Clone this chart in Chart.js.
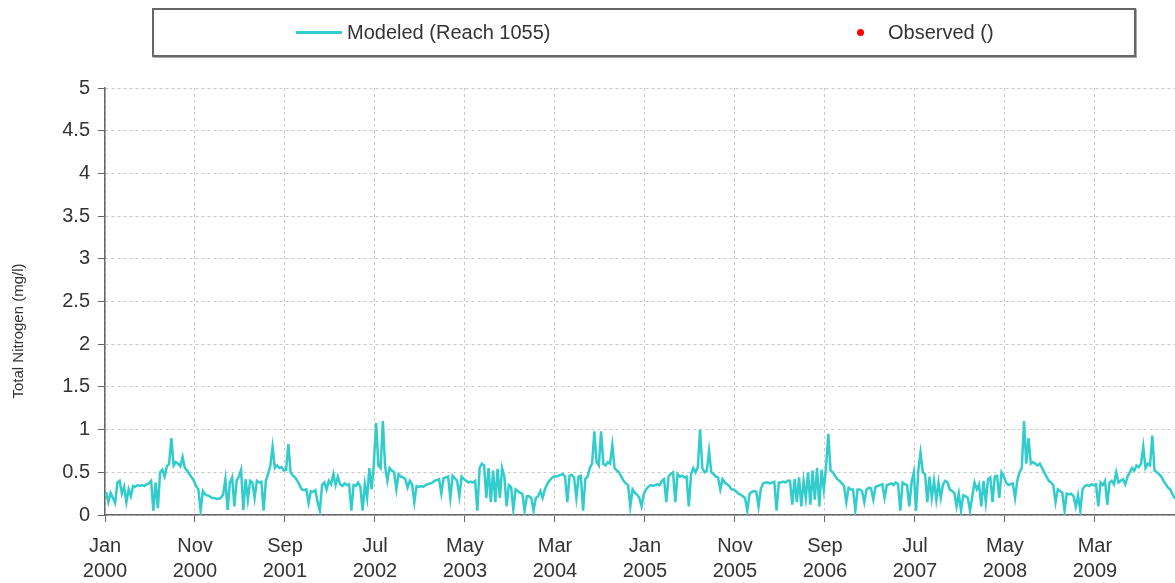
<!DOCTYPE html>
<html>
<head>
<meta charset="utf-8">
<title>Total Nitrogen - Reach 1055</title>
<script src="https://cdn.jsdelivr.net/npm/chart.js@4.4.0/dist/chart.umd.min.js"></script>
<style>
    html, body { margin: 0; padding: 0; background: #fff; }
    #wrap { position: relative; width: 1175px; height: 583px; overflow: hidden; }
    #legend {
        position: absolute; left: 152px; top: 8px; width: 980px; height: 45px;
        border: 2px solid #666; box-shadow: 1px 1px 0 #aaa;
        font: 20px "Liberation Sans", Arial, sans-serif; color: #333;
    }
    #legend .item { position: absolute; top: 0; line-height: 45px; white-space: nowrap; }
    #legend .line { display: inline-block; width: 46px; height: 3px; vertical-align: middle; margin-right: 5px; position: relative; top: -1px; }
    #legend .dot { display: inline-block; width: 7px; height: 7px; border-radius: 50%; vertical-align: middle; margin-right: 24px; position: relative; top: -1px; }
</style>
</head>
<body>
<div id="wrap">
    <canvas id="tnChart" width="1175" height="583"></canvas>
    <div id="legend"></div>
</div>
<script>
// --- Data (4 readings per month) ---

const yAxisTitle = 'Total Nitrogen (mg/l)';
const monthNames = ['Jan', 'Feb', 'Mar', 'Apr', 'May', 'Jun', 'Jul', 'Aug', 'Sep', 'Oct', 'Nov', 'Dec'];
const startYear = 2000;
const yTicks = [0, 0.5, 1, 1.5, 2, 2.5, 3, 3.5, 4, 4.5, 5];
const xTickMonths = [0, 10, 20, 30, 40, 50, 60, 70, 80, 90, 100, 110];

const tn2000 = [
    0.27, 0.15, 0.26, 0.20,  0.14, 0.38, 0.40, 0.25,  0.33, 0.15, 0.30, 0.22,
    0.34, 0.33, 0.35, 0.34,  0.35, 0.34, 0.36, 0.37,  0.40, 0.05, 0.38, 0.08,
    0.50, 0.53, 0.45, 0.57,  0.60, 0.90, 0.58, 0.62,  0.60, 0.57, 0.68, 0.55,
    0.52, 0.48, 0.44, 0.40,  0.34, 0.30, 0.05, 0.28,  0.24, 0.23, 0.22, 0.20
];
const tn2001 = [
    0.20, 0.19, 0.19, 0.20,  0.24, 0.42, 0.06, 0.38,  0.44, 0.10, 0.40, 0.45,
    0.53, 0.06, 0.42, 0.18,  0.40, 0.38, 0.20, 0.40,  0.38, 0.39, 0.05, 0.40,
    0.48, 0.58, 0.80, 0.55,  0.58, 0.55, 0.56, 0.52,  0.53, 0.83, 0.50, 0.46,
    0.44, 0.40, 0.35, 0.30,  0.29, 0.30, 0.14, 0.28,  0.27, 0.29, 0.15, 0.05
];
const tn2002 = [
    0.35, 0.38, 0.30, 0.40,  0.36, 0.48, 0.35, 0.45,  0.36, 0.34, 0.37, 0.35,
    0.36, 0.05, 0.35, 0.34,  0.38, 0.33, 0.05, 0.36,  0.20, 0.55, 0.30, 0.60,
    1.08, 0.58, 0.55, 1.10,  0.57, 0.40, 0.55, 0.52,  0.50, 0.30, 0.48, 0.45,
    0.44, 0.42, 0.32, 0.40,  0.36, 0.15, 0.34, 0.33,  0.34, 0.33, 0.35, 0.36
];
const tn2003 = [
    0.37, 0.38, 0.40, 0.41,  0.42, 0.25, 0.43, 0.44,  0.45, 0.20, 0.46, 0.43,
    0.40, 0.22, 0.45, 0.42,  0.40, 0.38, 0.39, 0.38,  0.40, 0.05, 0.55, 0.60,
    0.58, 0.20, 0.55, 0.15,  0.52, 0.15, 0.54, 0.20,  0.55, 0.45, 0.10, 0.35,
    0.33, 0.06, 0.30, 0.28,  0.26, 0.25, 0.05, 0.22,  0.22, 0.20, 0.05, 0.20
];
const tn2004 = [
    0.22, 0.28, 0.20, 0.30,  0.36, 0.40, 0.43, 0.45,  0.45, 0.46, 0.47, 0.48,
    0.45, 0.15, 0.46, 0.47,  0.44, 0.20, 0.45, 0.46,  0.05, 0.42, 0.45, 0.55,
    0.60, 0.98, 0.62, 0.58,  0.98, 0.60, 0.58, 0.62,  0.60, 0.82, 0.55, 0.52,
    0.50, 0.45, 0.40, 0.37,  0.35, 0.10, 0.30, 0.26,  0.24, 0.20, 0.10, 0.25
];
const tn2005 = [
    0.30, 0.33, 0.35, 0.34,  0.35, 0.36, 0.35, 0.40,  0.42, 0.15, 0.45, 0.48,
    0.50, 0.15, 0.48, 0.45,  0.46, 0.44, 0.45, 0.10,  0.48, 0.55, 0.50, 0.56,
    1.00, 0.55, 0.50, 0.52,  0.75, 0.50, 0.48, 0.45,  0.44, 0.30, 0.42, 0.38,
    0.36, 0.34, 0.30, 0.30,  0.28, 0.25, 0.24, 0.22,  0.20, 0.05, 0.25, 0.27
];
const tn2006 = [
    0.28, 0.27, 0.10, 0.30,  0.37, 0.38, 0.38, 0.37,  0.38, 0.39, 0.05, 0.38,
    0.38, 0.39, 0.38, 0.40,  0.40, 0.12, 0.42, 0.15,  0.44, 0.10, 0.40, 0.20,
    0.50, 0.12, 0.52, 0.18,  0.55, 0.10, 0.53, 0.30,  0.56, 0.95, 0.52, 0.50,
    0.46, 0.42, 0.40, 0.37,  0.34, 0.15, 0.32, 0.30,  0.30, 0.05, 0.30, 0.30
];
const tn2007 = [
    0.28, 0.15, 0.30, 0.32,  0.31, 0.18, 0.33, 0.34,  0.35, 0.36, 0.20, 0.35,
    0.36, 0.37, 0.35, 0.38,  0.36, 0.05, 0.38, 0.36,  0.35, 0.10, 0.38, 0.50,
    0.05, 0.52, 0.73, 0.50,  0.48, 0.15, 0.45, 0.20,  0.40, 0.18, 0.38, 0.20,
    0.36, 0.40, 0.38, 0.30,  0.28, 0.26, 0.10, 0.25,  0.05, 0.23, 0.22, 0.20
];
const tn2008 = [
    0.05, 0.22, 0.38, 0.30,  0.36, 0.10, 0.40, 0.15,  0.42, 0.44, 0.15, 0.45,
    0.46, 0.20, 0.50, 0.45,  0.38, 0.35, 0.36, 0.37,  0.20, 0.40, 0.50, 0.55,
    1.10, 0.60, 0.90, 0.60,  0.62, 0.60, 0.58, 0.60,  0.55, 0.50, 0.45, 0.40,
    0.38, 0.35, 0.15, 0.30,  0.28, 0.26, 0.05, 0.25,  0.24, 0.25, 0.22, 0.10
];
const tn2009 = [
    0.23, 0.05, 0.30, 0.34,  0.35, 0.34, 0.36, 0.35,  0.36, 0.10, 0.38, 0.35,
    0.40, 0.12, 0.38, 0.40,  0.36, 0.50, 0.38, 0.40,  0.42, 0.36, 0.45, 0.50,
    0.55, 0.52, 0.58, 0.56,  0.60, 0.80, 0.55, 0.60,  0.58, 0.93, 0.52, 0.50,
    0.48, 0.45, 0.40, 0.36,  0.32, 0.30, 0.24, 0.20,  0.22, 0.20, 0.18, 0.20
];

// --- Build series ---

const modeledYears = [tn2000, tn2001, tn2002, tn2003, tn2004, tn2005, tn2006, tn2007, tn2008, tn2009];
const modeled = [];
modeledYears.forEach((vals, yi) => {
    vals.forEach((v, i) => modeled.push({ x: yi * 12 + (i + 0.5) / 4, y: v }));
});
const observed = [];

const fontFamily = '"Liberation Sans", Arial, sans-serif';
const teal = '#33cccc';

// y axis title drawn at the spot it sits in the original
const yTitlePlugin = {
    id: 'yTitle',
    afterDraw(chart) {
        const ctx = chart.ctx;
        ctx.save();
        ctx.translate(19, 331);
        ctx.rotate(-Math.PI / 2);
        ctx.font = '15px ' + fontFamily;
        ctx.fillStyle = '#333';
        ctx.textAlign = 'center';
        ctx.textBaseline = 'middle';
        ctx.fillText(yAxisTitle, 0, 0);
        ctx.restore();
    }
};

const chart = new Chart(document.getElementById('tnChart'), {
    type: 'line',
    data: {
        datasets: [
            {
                label: 'Modeled (Reach 1055)',
                data: modeled,
                borderColor: teal,
                backgroundColor: teal,
                borderWidth: 2.5,
                pointRadius: 0,
                tension: 0
            },
            {
                label: 'Observed ()',
                data: observed,
                showLine: false,
                borderColor: '#ff0000',
                backgroundColor: '#ff0000',
                pointRadius: 3.5
            }
        ]
    },
    options: {
        responsive: false,
        animation: false,
        layout: { padding: { top: 88, left: 0, right: 0, bottom: 0 } },
        plugins: {
            legend: { display: false },
            tooltip: { enabled: false }
        },
        scales: {
            x: {
                type: 'linear',
                min: 0,
                max: 118.9,
                afterBuildTicks: s => { s.ticks = xTickMonths.map(v => ({ value: v })); },
                afterFit: s => { s.height = 68; },
                grid: { color: '#c8c8c8', tickColor: '#666', tickLength: 7, tickBorderDash: [] },
                border: { color: '#666', width: 1.5, dash: [3, 3] },
                ticks: {
                    autoSkip: false,
                    maxRotation: 0,
                    padding: 12,
                    color: '#333',
                    font: { family: fontFamily, size: 20, lineHeight: 1.25 },
                    callback: v => [monthNames[v % 12], String(startYear + Math.floor(v / 12))]
                }
            },
            y: {
                min: 0,
                max: 5,
                afterBuildTicks: s => { s.ticks = yTicks.map(v => ({ value: v })); },
                afterFit: s => { s.width = 105; },
                grid: { color: '#c8c8c8', tickColor: '#666', tickLength: 7, tickBorderDash: [] },
                border: { color: '#666', width: 1.5, dash: [3, 3] },
                ticks: {
                    padding: 8,
                    color: '#333',
                    font: { family: fontFamily, size: 20 },
                    callback: v => String(v)
                }
            }
        }
    },
    plugins: [yTitlePlugin]
});

// HTML legend built from the datasets
const legendPos = [142, 703];
const legend = document.getElementById('legend');
chart.data.datasets.forEach((ds, i) => {
    const item = document.createElement('div');
    item.className = 'item';
    item.style.left = legendPos[i] + 'px';
    const mark = document.createElement('span');
    mark.className = ds.showLine === false ? 'dot' : 'line';
    mark.style.background = ds.borderColor;
    item.appendChild(mark);
    item.appendChild(document.createTextNode(ds.label));
    legend.appendChild(item);
});
</script>
</body>
</html>
